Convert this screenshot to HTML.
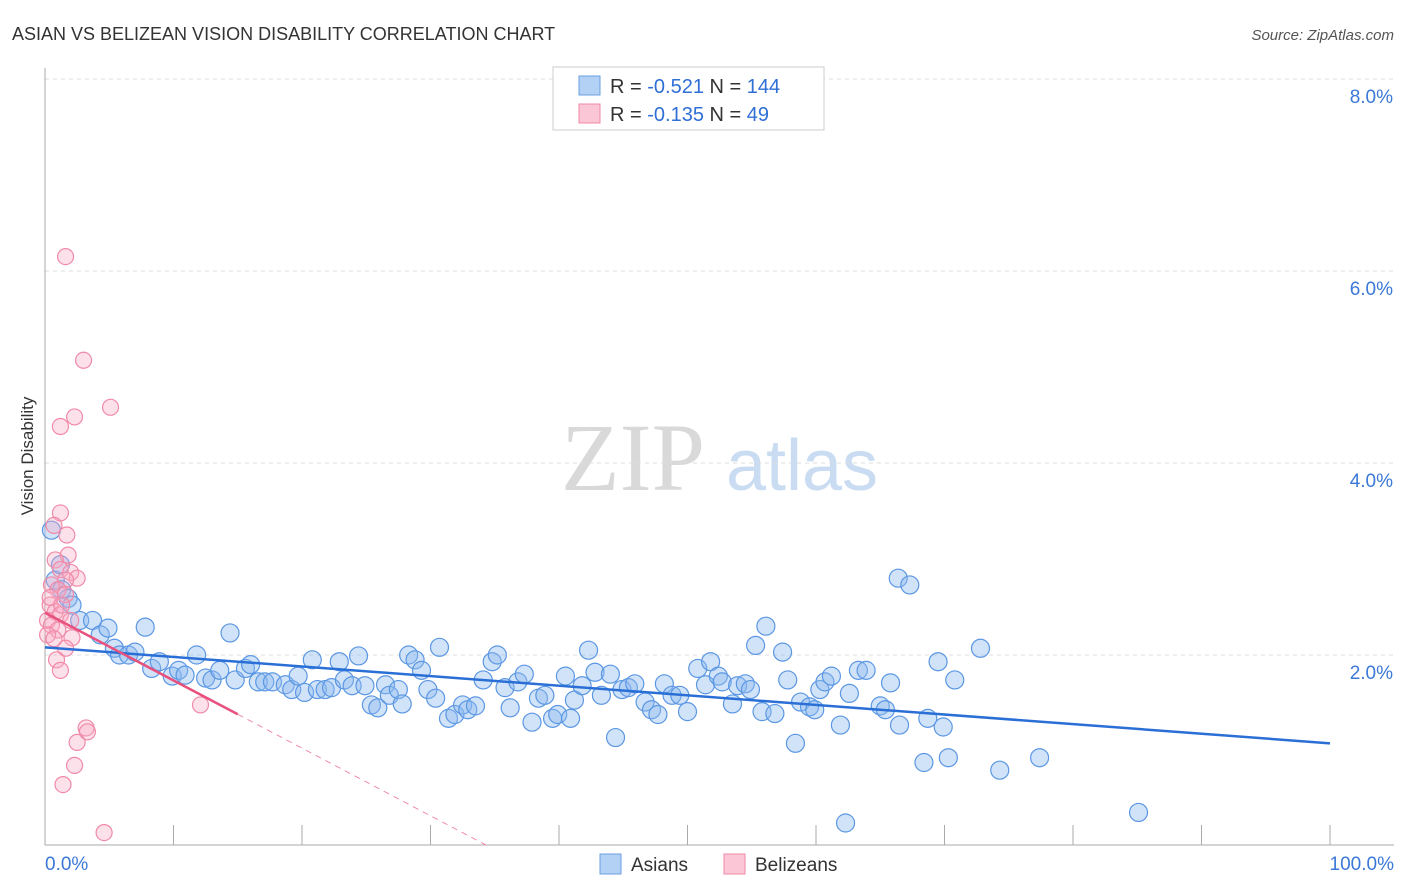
<!DOCTYPE html>
<html><head><meta charset="utf-8"><style>
body{margin:0;background:#fff;font-family:"Liberation Sans",sans-serif;}
#wrap{position:relative;width:1406px;height:892px;overflow:hidden;}
</style></head><body>
<div id="wrap">
<svg id="chart" width="1406" height="892">
<text x="12" y="40" font-size="18" fill="#333">ASIAN VS BELIZEAN VISION DISABILITY CORRELATION CHART</text>
<text x="1394" y="40" font-size="15" fill="#555" font-style="italic" text-anchor="end">Source: ZipAtlas.com</text>
<text x="33" y="456" font-size="17" fill="#333" text-anchor="middle" transform="rotate(-90 33 456)">Vision Disability</text>
<g>
<text x="633" y="490" font-size="96" fill="#d9d9d9" font-family="Liberation Serif,serif" text-anchor="middle">ZIP</text>
<text x="802" y="490" font-size="72" fill="#c9dcf2" text-anchor="middle">atlas</text>
</g>
<g id="grid"></g><g id="axes"></g><g id="pts"></g><g id="lines"></g>
<g>
<rect x="553" y="67" width="271" height="63" fill="#fff" stroke="#ccc"/>
<rect x="579" y="76" width="21" height="19" fill="#b3d0f5" stroke="#6a9fe0"/>
<rect x="579" y="104" width="21" height="19" fill="#fbc7d6" stroke="#f08aa8"/>
<text x="610" y="93" font-size="20" fill="#333">R = <tspan fill="#2f6fd6">-0.521</tspan>   N = <tspan fill="#2f6fd6">144</tspan></text>
<text x="610" y="121" font-size="20" fill="#333">R = <tspan fill="#2f6fd6">-0.135</tspan>   N =   <tspan fill="#2f6fd6">49</tspan></text>
</g>
<g>
<rect x="600" y="854" width="21" height="20" fill="#b3d0f5" stroke="#6a9fe0"/>
<text x="631" y="871" font-size="19" fill="#333">Asians</text>
<rect x="724" y="854" width="21" height="20" fill="#fbc7d6" stroke="#f08aa8"/>
<text x="755" y="871" font-size="19" fill="#333">Belizeans</text>
</g>
</svg></div>
<script>
const yTicks=[2,4,6,8];
const yTickLabels=["2.0%","4.0%","6.0%","8.0%"];
const xTickLabels=["0.0%","100.0%"];
const asianX=[0.5,0.8,1.2,1.3,1.8,2.1,2.7,3.7,4.3,4.9,5.4,5.8,6.5,7.0,7.8,8.3,8.9,9.9,10.4,10.9,11.8,12.5,13.0,13.6,14.4,14.8,15.6,16.0,16.6,17.1,17.7,18.7,19.2,19.7,20.2,20.8,21.2,21.8,22.3,22.9,23.3,23.9,24.4,24.9,25.4,25.9,26.5,26.8,27.5,27.8,28.3,28.8,29.3,29.8,30.4,30.7,31.4,31.9,32.5,32.9,33.5,34.1,34.8,35.2,35.8,36.2,36.8,37.3,37.9,38.4,38.9,39.5,39.9,40.5,40.9,41.2,41.8,42.3,42.8,43.3,44.0,44.4,44.9,45.4,45.9,46.7,47.2,47.7,48.2,48.8,49.4,50.0,50.8,51.4,51.8,52.4,52.7,53.5,53.9,54.5,54.9,55.3,55.8,56.1,56.8,57.4,57.8,58.4,58.8,59.5,59.9,60.3,60.7,61.2,61.9,62.3,62.6,63.3,63.9,65.0,65.4,65.8,66.4,66.5,67.3,68.4,68.7,69.5,69.9,70.3,70.8,72.8,74.3,77.4,85.1];
const asianY=[3.30,2.78,2.94,2.68,2.59,2.52,2.36,2.36,2.21,2.28,2.07,2.00,2.00,2.03,2.29,1.86,1.93,1.78,1.84,1.79,2.00,1.76,1.74,1.84,2.23,1.74,1.86,1.90,1.72,1.72,1.72,1.69,1.64,1.78,1.61,1.95,1.64,1.64,1.66,1.93,1.74,1.68,1.99,1.68,1.48,1.45,1.69,1.58,1.64,1.49,2.00,1.95,1.84,1.64,1.55,2.08,1.34,1.38,1.48,1.43,1.47,1.74,1.93,2.00,1.66,1.45,1.72,1.80,1.30,1.55,1.58,1.34,1.38,1.78,1.34,1.53,1.68,2.05,1.82,1.58,1.80,1.14,1.64,1.66,1.70,1.51,1.43,1.38,1.70,1.58,1.58,1.41,1.86,1.69,1.93,1.78,1.72,1.49,1.68,1.70,1.64,2.10,1.41,2.30,1.39,2.03,1.74,1.08,1.51,1.46,1.43,1.64,1.72,1.78,1.27,0.25,1.60,1.84,1.84,1.47,1.43,1.71,2.80,1.27,2.73,0.88,1.34,1.93,1.25,0.93,1.74,2.07,0.80,0.93,0.36];
const belizeX=[1.6,3.0,5.1,2.3,1.2,1.2,1.7,0.7,1.8,0.8,1.2,2.0,2.5,1.6,0.5,1.0,1.6,0.4,0.8,1.2,0.2,0.5,1.0,2.0,0.2,2.1,1.6,0.9,1.2,12.1,3.2,3.3,2.5,2.3,1.4,4.6,0.4,1.3,0.7];
const belizeY=[6.15,5.07,4.58,4.48,4.38,3.48,3.25,3.35,3.04,2.99,2.89,2.86,2.80,2.78,2.73,2.68,2.63,2.52,2.45,2.42,2.36,2.31,2.26,2.36,2.21,2.18,2.07,1.95,1.84,1.48,1.24,1.20,1.09,0.85,0.65,0.15,2.60,2.52,2.17];
const asianTrend=[2.08,1.08];
const belizeTrend=[2.44,-0.0705];
const X0=45,X1=1330,Y0=847,PY=96;
const sx=v=>X0+(X1-X0)*v/100, sy=v=>Y0-v*PY;
const NS="http://www.w3.org/2000/svg";
function mk(t,a,p){const e=document.createElementNS(NS,t);for(const k in a)e.setAttribute(k,a[k]);p.appendChild(e);return e;}
const grid=document.getElementById('grid'),axes=document.getElementById('axes'),pts=document.getElementById('pts'),lines=document.getElementById('lines');
yTicks.forEach((t,i)=>{
 const l=mk('line',{x1:45,x2:1394,y1:sy(t),y2:sy(t),stroke:'#ddd','stroke-dasharray':'4,4'},grid);
 
 
 const tx=mk('text',{x:1393,y:sy(t)+24,'font-size':19,fill:'#3b78d8','text-anchor':'end'},axes);
 tx.textContent=yTickLabels[i];
 
 
});
const ya=mk('line',{x1:45,x2:45,y1:68,y2:845,stroke:'#aaa'},axes);


const xa=mk('line',{x1:45,x2:1394,y1:845,y2:845,stroke:'#aaa'},axes);


for(let i=0;i<=10;i++){
 const tk=mk('line',{x1:sx(i*10),x2:sx(i*10),y1:825,y2:845,stroke:'#aaa'},axes);
 
 
}
[[0,'start',45],[100,'end',1394]].forEach((d,i)=>{
 const tx=mk('text',{x:d[2],y:870,'font-size':19,fill:'#3b78d8','text-anchor':d[1]},axes);
 tx.textContent=xTickLabels[i];
 
 
});
asianX.forEach((x,i)=>{
 const c=mk('circle',{cx:sx(x),cy:sy(asianY[i]),r:9,fill:'rgba(140,185,240,0.4)',stroke:'#5b97e3','stroke-width':1.2},pts);
 
 
});
belizeX.forEach((x,i)=>{
 const c=mk('circle',{cx:sx(x),cy:sy(belizeY[i]),r:8,fill:'rgba(248,170,195,0.35)',stroke:'#f08aa8','stroke-width':1.2},pts);
 
 
});
const al=mk('line',{x1:sx(0),y1:sy(asianTrend[0]),x2:sx(100),y2:sy(asianTrend[1]),stroke:'#2a6fd6','stroke-width':2.5},lines);


const bz=-belizeTrend[0]/belizeTrend[1];
const bl=mk('line',{x1:sx(0),y1:sy(belizeTrend[0]),x2:sx(15),y2:sy(belizeTrend[0]+belizeTrend[1]*15),stroke:'#e8507e','stroke-width':2.5},lines);


const bd=mk('line',{x1:sx(15),y1:sy(belizeTrend[0]+belizeTrend[1]*15),x2:sx(bz),y2:sy(0),stroke:'#f08aa8','stroke-width':1,'stroke-dasharray':'6,5'},lines);


</script>
</body></html>
